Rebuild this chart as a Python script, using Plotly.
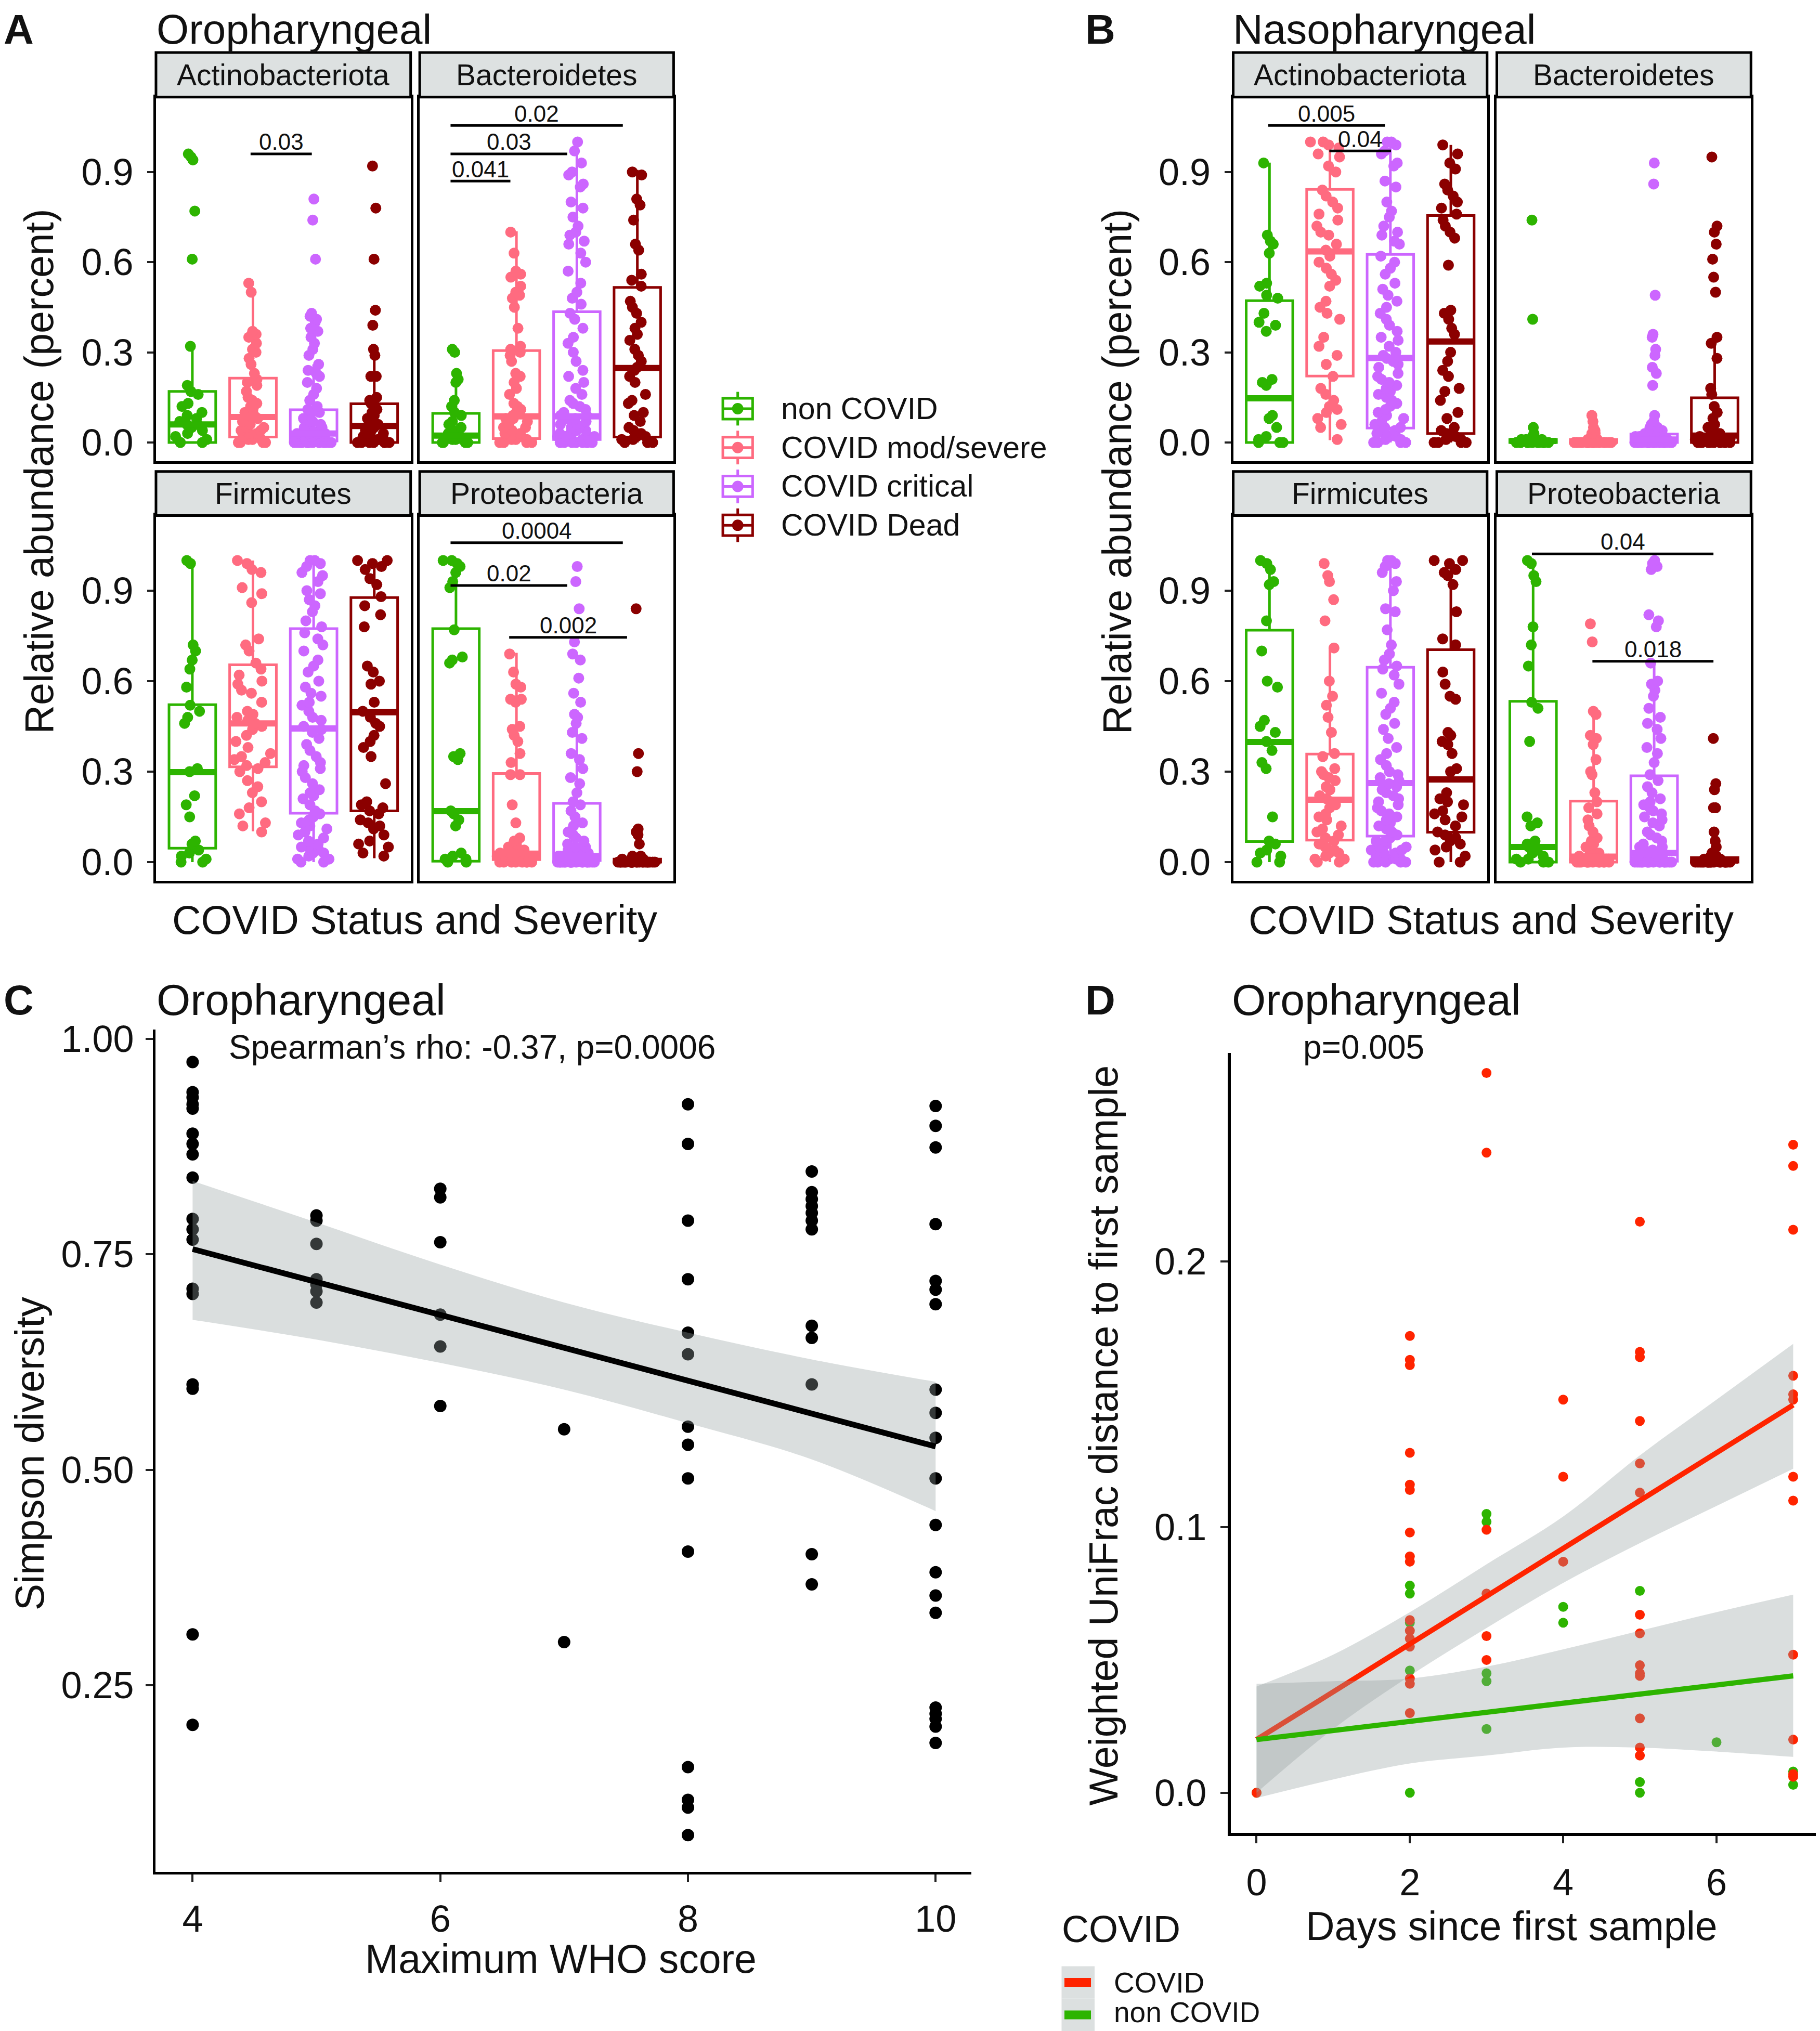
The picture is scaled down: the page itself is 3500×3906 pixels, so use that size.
import plotly.graph_objects as go

group_names = ["non COVID", "COVID mod/severe", "COVID critical", "COVID Dead"]
group_colors = ["#2DB400", "#FF6B80", "#CC66FF", "#8B0000"]

# box stats per group: lower whisker, q1, median, q3, upper whisker
oro_actino_box = [[0, 0, 0.06, 0.17, 0.32], [0, 0.018, 0.085, 0.214, 0.50], [0, 0.005, 0.03, 0.109, 0.26], [0, 0, 0.055, 0.129, 0.31]]
oro_bact_box = [[0, 0, 0.023, 0.097, 0.236], [0, 0.013, 0.087, 0.306, 0.703], [0, 0.01, 0.087, 0.435, 0.996], [0, 0.018, 0.248, 0.516, 0.907]]
oro_firm_box = [[0, 0.046, 0.298, 0.522, 1.0], [0.102, 0.316, 0.46, 0.654, 1.0], [0, 0.162, 0.443, 0.774, 1.0], [0.013, 0.17, 0.497, 0.877, 1.0]]
oro_prot_box = [[0, 0.003, 0.169, 0.774, 1.0], [0, 0.008, 0.028, 0.294, 0.694], [0, 0.005, 0.02, 0.195, 0.48], [0, 0, 0.003, 0.01, 0.02]]
naso_actino_box = [[0, 0, 0.147, 0.472, 0.931], [0.008, 0.221, 0.636, 0.842, 1.0], [0, 0.048, 0.281, 0.626, 1.0], [0, 0.03, 0.336, 0.755, 0.99]]
naso_bact_box = [[0, 0, 0.005, 0.01, 0.02], [0, 0, 0.003, 0.01, 0.02], [0, 0, 0.01, 0.028, 0.07], [0, 0, 0.023, 0.149, 0.346]]
naso_firm_box = [[0, 0.068, 0.398, 0.769, 1.0], [0, 0.073, 0.207, 0.358, 0.714], [0, 0.086, 0.262, 0.646, 1.0], [0, 0.099, 0.274, 0.704, 1.0]]
naso_prot_box = [[0, 0, 0.05, 0.533, 1.0], [0, 0, 0.018, 0.202, 0.497], [0, 0.003, 0.03, 0.286, 0.662], [0, 0, 0.005, 0.015, 0.03]]

# sample values per group (non COVID, mod/severe, critical, dead)
oro_actino_pts = [
    [0.95, 0.96, 0.94, 0.77, 0.61, 0.32, 0.19, 0.17, 0.16, 0.13, 0.12, 0.10, 0.09, 0.08, 0.07, 0.06, 0.06, 0.05, 0.04, 0.03, 0.02, 0.01, 0.0, 0.0],
    [0.53, 0.50, 0.37, 0.36, 0.35, 0.33, 0.31, 0.30, 0.28, 0.26, 0.23, 0.21, 0.20, 0.19, 0.17, 0.15, 0.14, 0.13, 0.12, 0.11, 0.10, 0.09, 0.09, 0.08,
     0.08, 0.07, 0.07, 0.06, 0.05, 0.05, 0.04, 0.04, 0.03, 0.03, 0.02, 0.02, 0.02, 0.01, 0.01, 0.01, 0.0, 0.0, 0.0, 0.0],
    [0.81, 0.74, 0.61, 0.43, 0.42, 0.41, 0.40, 0.38, 0.37, 0.35, 0.33, 0.31, 0.29, 0.26, 0.24, 0.23, 0.22, 0.20, 0.18, 0.16, 0.14, 0.12, 0.11, 0.10,
     0.10, 0.09, 0.08, 0.07, 0.07, 0.06, 0.05, 0.05, 0.04, 0.04, 0.04, 0.03, 0.03, 0.03, 0.03, 0.02, 0.02, 0.02, 0.02, 0.02, 0.02, 0.01, 0.01, 0.01,
     0.01, 0.01, 0.01, 0.01, 0.01, 0.0, 0.0, 0.0, 0.0, 0.0, 0.0, 0.0, 0.0, 0.0, 0.0, 0.0, 0.0, 0.0, 0.0, 0.0, 0.0, 0.0],
    [0.92, 0.78, 0.61, 0.44, 0.39, 0.31, 0.29, 0.22, 0.22, 0.15, 0.14, 0.13, 0.12, 0.11, 0.10, 0.09, 0.08, 0.07, 0.06, 0.06, 0.05, 0.05, 0.04, 0.04,
     0.03, 0.03, 0.02, 0.02, 0.02, 0.01, 0.01, 0.01, 0.01, 0.0, 0.0, 0.0, 0.0, 0.0, 0.0, 0.0],
]
oro_bact_pts = [
    [0.31, 0.30, 0.23, 0.21, 0.20, 0.14, 0.12, 0.10, 0.09, 0.07, 0.06, 0.05, 0.04, 0.03, 0.03, 0.02, 0.02, 0.01, 0.01, 0.01, 0.0, 0.0, 0.0, 0.0],
    [0.70, 0.63, 0.57, 0.56, 0.55, 0.52, 0.50, 0.49, 0.48, 0.45, 0.38, 0.32, 0.31, 0.30, 0.29, 0.27, 0.23, 0.22, 0.20, 0.18, 0.16, 0.13, 0.12, 0.11,
     0.10, 0.09, 0.08, 0.08, 0.07, 0.06, 0.05, 0.05, 0.04, 0.03, 0.03, 0.02, 0.02, 0.01, 0.01, 0.01, 0.0, 0.0, 0.0, 0.0],
    [1.0, 0.97, 0.93, 0.90, 0.89, 0.86, 0.85, 0.80, 0.78, 0.75, 0.72, 0.70, 0.69, 0.67, 0.66, 0.63, 0.60, 0.57, 0.53, 0.50, 0.48, 0.46, 0.43, 0.41,
     0.38, 0.35, 0.33, 0.30, 0.27, 0.24, 0.22, 0.20, 0.18, 0.16, 0.14, 0.13, 0.12, 0.11, 0.10, 0.09, 0.09, 0.08, 0.08, 0.07, 0.07, 0.06, 0.06, 0.05,
     0.05, 0.04, 0.04, 0.03, 0.03, 0.03, 0.02, 0.02, 0.02, 0.01, 0.01, 0.01, 0.01, 0.01, 0.0, 0.0, 0.0, 0.0, 0.0, 0.0, 0.0, 0.0],
    [0.90, 0.89, 0.81, 0.79, 0.74, 0.66, 0.64, 0.56, 0.54, 0.52, 0.47, 0.45, 0.43, 0.40, 0.38, 0.36, 0.34, 0.31, 0.29, 0.27, 0.25, 0.24, 0.22, 0.20,
     0.16, 0.14, 0.13, 0.10, 0.09, 0.07, 0.05, 0.04, 0.03, 0.02, 0.02, 0.01, 0.01, 0.0, 0.0, 0.0],
]
oro_firm_pts = [
    [1.0, 0.99, 0.72, 0.70, 0.67, 0.64, 0.58, 0.52, 0.50, 0.48, 0.46, 0.31, 0.30, 0.22, 0.19, 0.15, 0.07, 0.06, 0.04, 0.03, 0.02, 0.01, 0.0, 0.0],
    [1.0, 0.99, 0.97, 0.96, 0.91, 0.89, 0.86, 0.74, 0.72, 0.70, 0.66, 0.64, 0.62, 0.60, 0.59, 0.57, 0.56, 0.53, 0.50, 0.49, 0.48, 0.47, 0.46, 0.45,
     0.44, 0.42, 0.40, 0.38, 0.36, 0.35, 0.34, 0.33, 0.32, 0.31, 0.30, 0.27, 0.25, 0.23, 0.20, 0.18, 0.16, 0.13, 0.12, 0.10],
    [1.0, 1.0, 0.99, 0.98, 0.96, 0.95, 0.93, 0.90, 0.89, 0.87, 0.85, 0.83, 0.80, 0.78, 0.76, 0.74, 0.72, 0.70, 0.67, 0.65, 0.63, 0.60, 0.58, 0.56,
     0.55, 0.53, 0.52, 0.50, 0.48, 0.47, 0.45, 0.44, 0.43, 0.41, 0.39, 0.37, 0.35, 0.33, 0.32, 0.31, 0.30, 0.28, 0.26, 0.24, 0.23, 0.22, 0.21, 0.19,
     0.17, 0.16, 0.15, 0.14, 0.13, 0.12, 0.11, 0.10, 0.09, 0.08, 0.07, 0.06, 0.05, 0.05, 0.04, 0.03, 0.03, 0.02, 0.01, 0.01, 0.0, 0.0],
    [1.0, 1.0, 0.99, 0.98, 0.97, 0.94, 0.92, 0.88, 0.85, 0.82, 0.78, 0.65, 0.63, 0.60, 0.59, 0.53, 0.50, 0.48, 0.46, 0.45, 0.42, 0.40, 0.38, 0.35,
     0.26, 0.20, 0.19, 0.18, 0.17, 0.16, 0.14, 0.13, 0.12, 0.11, 0.09, 0.07, 0.06, 0.05, 0.03, 0.02],
]
oro_prot_pts = [
    [1.0, 1.0, 0.99, 0.98, 0.96, 0.93, 0.91, 0.77, 0.68, 0.67, 0.66, 0.36, 0.35, 0.34, 0.17, 0.16, 0.14, 0.12, 0.03, 0.02, 0.01, 0.01, 0.0, 0.0],
    [0.69, 0.63, 0.59, 0.58, 0.54, 0.54, 0.53, 0.45, 0.44, 0.42, 0.40, 0.36, 0.33, 0.29, 0.29, 0.19, 0.13, 0.08, 0.07, 0.06, 0.05, 0.05, 0.04, 0.04,
     0.03, 0.03, 0.03, 0.02, 0.02, 0.02, 0.02, 0.01, 0.01, 0.01, 0.01, 0.01, 0.0, 0.0, 0.0, 0.0, 0.0, 0.0, 0.0, 0.0],
    [0.98, 0.93, 0.84, 0.73, 0.69, 0.67, 0.61, 0.56, 0.53, 0.49, 0.48, 0.46, 0.43, 0.41, 0.36, 0.34, 0.31, 0.28, 0.26, 0.23, 0.20, 0.19, 0.17, 0.15,
     0.13, 0.12, 0.10, 0.09, 0.08, 0.07, 0.06, 0.05, 0.05, 0.04, 0.04, 0.03, 0.03, 0.03, 0.02, 0.02, 0.02, 0.02, 0.02, 0.01, 0.01, 0.01, 0.01, 0.01,
     0.01, 0.01, 0.01, 0.0, 0.0, 0.0, 0.0, 0.0, 0.0, 0.0, 0.0, 0.0, 0.0, 0.0, 0.0, 0.0, 0.0, 0.0, 0.0, 0.0, 0.0, 0.0],
    [0.84, 0.36, 0.30, 0.11, 0.10, 0.10, 0.09, 0.06, 0.02, 0.02, 0.01, 0.01, 0.01, 0.01, 0.01, 0.01, 0.01, 0.0, 0.0, 0.0, 0.0, 0.0, 0.0, 0.0,
     0.0, 0.0, 0.0, 0.0, 0.0, 0.0, 0.0, 0.0, 0.0, 0.0, 0.0, 0.0, 0.0, 0.0, 0.0, 0.0],
]
naso_actino_pts = [
    [0.93, 0.69, 0.67, 0.66, 0.63, 0.53, 0.52, 0.49, 0.48, 0.43, 0.40, 0.39, 0.37, 0.21, 0.20, 0.19, 0.09, 0.08, 0.05, 0.02, 0.01, 0.0, 0.0, 0.0],
    [1.0, 1.0, 0.99, 0.98, 0.96, 0.95, 0.92, 0.90, 0.84, 0.82, 0.80, 0.78, 0.76, 0.74, 0.72, 0.70, 0.69, 0.66, 0.64, 0.62, 0.60, 0.58, 0.56, 0.54,
     0.52, 0.47, 0.45, 0.43, 0.41, 0.35, 0.32, 0.29, 0.26, 0.22, 0.18, 0.16, 0.14, 0.12, 0.11, 0.10, 0.08, 0.06, 0.05, 0.01],
    [1.0, 1.0, 0.99, 0.97, 0.96, 0.93, 0.92, 0.87, 0.85, 0.80, 0.77, 0.75, 0.72, 0.70, 0.69, 0.67, 0.66, 0.62, 0.60, 0.58, 0.56, 0.53, 0.51, 0.49,
     0.47, 0.45, 0.43, 0.41, 0.39, 0.37, 0.35, 0.34, 0.32, 0.30, 0.29, 0.28, 0.27, 0.26, 0.25, 0.23, 0.22, 0.21, 0.20, 0.19, 0.18, 0.17, 0.16, 0.15,
     0.14, 0.13, 0.12, 0.11, 0.10, 0.09, 0.08, 0.07, 0.06, 0.05, 0.05, 0.04, 0.03, 0.03, 0.02, 0.02, 0.01, 0.01, 0.0, 0.0, 0.0, 0.0],
    [0.99, 0.96, 0.93, 0.91, 0.86, 0.84, 0.82, 0.80, 0.78, 0.76, 0.74, 0.72, 0.70, 0.68, 0.59, 0.44, 0.43, 0.41, 0.38, 0.36, 0.30, 0.27, 0.24, 0.22,
     0.18, 0.17, 0.14, 0.10, 0.08, 0.05, 0.04, 0.03, 0.02, 0.02, 0.01, 0.01, 0.0, 0.0, 0.0, 0.0],
]
naso_bact_pts = [
    [0.74, 0.41, 0.05, 0.03, 0.02, 0.02, 0.01, 0.01, 0.01, 0.01, 0.01, 0.0, 0.0, 0.0, 0.0, 0.0, 0.0, 0.0, 0.0, 0.0, 0.0, 0.0, 0.0, 0.0],
    [0.09, 0.07, 0.05, 0.04, 0.03, 0.03, 0.02, 0.02, 0.02, 0.01, 0.01, 0.01, 0.01, 0.01, 0.01, 0.01, 0.01, 0.01, 0.01, 0.0, 0.0, 0.0, 0.0, 0.0,
     0.0, 0.0, 0.0, 0.0, 0.0, 0.0, 0.0, 0.0, 0.0, 0.0, 0.0, 0.0, 0.0, 0.0, 0.0, 0.0, 0.0, 0.0, 0.0, 0.0],
    [0.93, 0.86, 0.49, 0.36, 0.35, 0.31, 0.29, 0.25, 0.23, 0.19, 0.09, 0.07, 0.06, 0.05, 0.05, 0.04, 0.04, 0.03, 0.03, 0.03, 0.02, 0.02, 0.02, 0.02,
     0.02, 0.02, 0.02, 0.02, 0.01, 0.01, 0.01, 0.01, 0.01, 0.01, 0.01, 0.01, 0.01, 0.01, 0.01, 0.01, 0.01, 0.01, 0.0, 0.0, 0.0, 0.0, 0.0, 0.0,
     0.0, 0.0, 0.0, 0.0, 0.0, 0.0, 0.0, 0.0, 0.0, 0.0, 0.0, 0.0, 0.0, 0.0, 0.0, 0.0, 0.0, 0.0, 0.0, 0.0, 0.0, 0.0],
    [0.95, 0.72, 0.70, 0.66, 0.61, 0.55, 0.50, 0.35, 0.33, 0.28, 0.18, 0.16, 0.12, 0.10, 0.08, 0.06, 0.05, 0.04, 0.03, 0.03, 0.02, 0.02, 0.02, 0.01,
     0.01, 0.01, 0.01, 0.01, 0.01, 0.0, 0.0, 0.0, 0.0, 0.0, 0.0, 0.0, 0.0, 0.0, 0.0, 0.0],
]
naso_firm_pts = [
    [1.0, 0.99, 0.97, 0.93, 0.92, 0.80, 0.70, 0.60, 0.58, 0.47, 0.45, 0.43, 0.40, 0.37, 0.33, 0.31, 0.15, 0.07, 0.06, 0.04, 0.03, 0.02, 0.0, 0.0],
    [0.99, 0.95, 0.93, 0.87, 0.80, 0.71, 0.60, 0.55, 0.52, 0.48, 0.43, 0.36, 0.35, 0.31, 0.30, 0.29, 0.28, 0.27, 0.25, 0.24, 0.22, 0.21, 0.20, 0.19,
     0.18, 0.16, 0.15, 0.14, 0.12, 0.11, 0.10, 0.09, 0.08, 0.07, 0.06, 0.05, 0.04, 0.03, 0.03, 0.02, 0.01, 0.01, 0.0, 0.0],
    [1.0, 1.0, 0.99, 0.98, 0.96, 0.93, 0.90, 0.84, 0.83, 0.77, 0.72, 0.69, 0.67, 0.65, 0.64, 0.62, 0.59, 0.56, 0.53, 0.51, 0.49, 0.46, 0.44, 0.41,
     0.38, 0.36, 0.34, 0.32, 0.30, 0.29, 0.28, 0.27, 0.26, 0.25, 0.24, 0.23, 0.22, 0.21, 0.20, 0.19, 0.18, 0.17, 0.16, 0.15, 0.14, 0.13, 0.12, 0.11,
     0.10, 0.09, 0.08, 0.07, 0.07, 0.06, 0.05, 0.05, 0.04, 0.04, 0.03, 0.03, 0.02, 0.02, 0.01, 0.01, 0.01, 0.0, 0.0, 0.0, 0.0, 0.0],
    [1.0, 1.0, 0.99, 0.97, 0.96, 0.95, 0.92, 0.83, 0.74, 0.72, 0.63, 0.59, 0.55, 0.54, 0.43, 0.42, 0.40, 0.39, 0.36, 0.31, 0.30, 0.23, 0.21, 0.20,
     0.19, 0.17, 0.16, 0.15, 0.14, 0.12, 0.10, 0.09, 0.08, 0.07, 0.06, 0.05, 0.04, 0.02, 0.0, 0.0],
]
naso_prot_pts = [
    [1.0, 0.99, 0.95, 0.93, 0.78, 0.72, 0.65, 0.53, 0.51, 0.40, 0.15, 0.13, 0.12, 0.07, 0.06, 0.05, 0.04, 0.03, 0.02, 0.01, 0.01, 0.0, 0.0, 0.0],
    [0.79, 0.73, 0.50, 0.49, 0.42, 0.41, 0.39, 0.34, 0.30, 0.29, 0.23, 0.20, 0.18, 0.16, 0.14, 0.12, 0.10, 0.08, 0.07, 0.06, 0.05, 0.04, 0.03, 0.03,
     0.02, 0.02, 0.02, 0.01, 0.01, 0.01, 0.01, 0.01, 0.0, 0.0, 0.0, 0.0, 0.0, 0.0, 0.0, 0.0, 0.0, 0.0, 0.0, 0.0],
    [1.0, 0.99, 0.98, 0.97, 0.82, 0.80, 0.78, 0.66, 0.60, 0.59, 0.57, 0.55, 0.51, 0.48, 0.46, 0.44, 0.41, 0.38, 0.36, 0.33, 0.29, 0.27, 0.25, 0.23,
     0.21, 0.20, 0.19, 0.18, 0.17, 0.16, 0.15, 0.14, 0.13, 0.12, 0.10, 0.09, 0.08, 0.07, 0.06, 0.05, 0.05, 0.04, 0.04, 0.03, 0.03, 0.03, 0.02, 0.02,
     0.02, 0.01, 0.01, 0.01, 0.01, 0.01, 0.0, 0.0, 0.0, 0.0, 0.0, 0.0, 0.0, 0.0, 0.0, 0.0, 0.0, 0.0, 0.0, 0.0, 0.0, 0.0],
    [0.41, 0.26, 0.24, 0.18, 0.18, 0.10, 0.07, 0.05, 0.03, 0.02, 0.02, 0.01, 0.01, 0.01, 0.01, 0.01, 0.01, 0.01, 0.01, 0.01, 0.01, 0.0, 0.0, 0.0,
     0.0, 0.0, 0.0, 0.0, 0.0, 0.0, 0.0, 0.0, 0.0, 0.0, 0.0, 0.0, 0.0, 0.0, 0.0, 0.0],
]

# significance brackets: from group, to group, height, p value
oro_actino_sig = [(1.96, 2.97, 0.96, "0.03")]
oro_bact_sig = [(0.91, 3.76, 1.055, "0.02"), (0.91, 2.84, 0.96, "0.03"), (0.91, 1.90, 0.87, "0.041")]
oro_firm_sig = []
oro_prot_sig = [(0.91, 3.76, 1.059, "0.0004"), (0.91, 2.84, 0.917, "0.02"), (1.88, 3.83, 0.745, "0.002")]
naso_actino_sig = [(0.98, 2.91, 1.055, "0.005"), (1.99, 3.01, 0.97, "0.04")]
naso_bact_sig = []
naso_firm_sig = []
naso_prot_sig = [(0.98, 3.98, 1.022, "0.04"), (1.98, 3.98, 0.666, "0.018")]

# ---- panel C: Simpson diversity vs max WHO score ----
who_scores = [4, 5, 6, 7, 8, 9, 10]
simpson = [
    [0.973, 0.938, 0.932, 0.924, 0.919, 0.890, 0.878, 0.866, 0.839, 0.791, 0.779, 0.767, 0.710, 0.704, 0.599, 0.594, 0.309, 0.204],
    [0.795, 0.789, 0.762, 0.721, 0.715, 0.707, 0.694],
    [0.826, 0.816, 0.764, 0.680, 0.643, 0.574],
    [0.547, 0.300],
    [0.924, 0.878, 0.789, 0.721, 0.659, 0.634, 0.550, 0.529, 0.490, 0.405, 0.155, 0.117, 0.108, 0.076],
    [0.846, 0.822, 0.814, 0.806, 0.798, 0.789, 0.779, 0.667, 0.653, 0.599, 0.402, 0.367],
    [0.922, 0.899, 0.874, 0.785, 0.719, 0.709, 0.692, 0.593, 0.566, 0.537, 0.490, 0.436, 0.381, 0.354, 0.334, 0.224, 0.217, 0.211, 0.202, 0.183],
]
simpson_fit_x = [4, 10]
simpson_fit = [0.756, 0.527]
simpson_ci_hi = [0.835, 0.787, 0.738, 0.694, 0.659, 0.628, 0.602]
simpson_ci_lo = [0.674, 0.651, 0.624, 0.593, 0.554, 0.512, 0.452]

# ---- panel D: weighted UniFrac distance vs days ----
days = [0, 2, 3, 4, 5, 6, 7]
unifrac_covid = [
    [0.0],
    [0.172, 0.163, 0.161, 0.128, 0.116, 0.114, 0.098, 0.089, 0.087, 0.065, 0.061, 0.058, 0.055, 0.043, 0.041, 0.030],
    [0.271, 0.241, 0.099, 0.075, 0.059, 0.050],
    [0.148, 0.119, 0.087],
    [0.215, 0.166, 0.164, 0.140, 0.124, 0.113, 0.067, 0.060, 0.048, 0.045, 0.044, 0.028, 0.017, 0.014],
    [],
    [0.244, 0.236, 0.212, 0.157, 0.150, 0.148, 0.119, 0.110, 0.052, 0.020, 0.007, 0.006],
]
unifrac_noncovid = [
    [0.0],
    [0.078, 0.075, 0.064, 0.046, 0.0],
    [0.105, 0.102, 0.045, 0.042, 0.024],
    [0.070, 0.064],
    [0.076, 0.004, 0.0],
    [0.019],
    [0.008, 0.003],
]
fit_days = [0, 1, 2, 3, 4, 5, 6, 7]
covid_fit = [0.020, 0.146]
covid_ci_hi = [0.040, 0.052, 0.068, 0.086, 0.104, 0.127, 0.148, 0.169]
covid_ci_lo = [0.000, 0.024, 0.044, 0.062, 0.079, 0.094, 0.108, 0.122]
noncovid_fit = [0.020, 0.044]
noncovid_ci_hi = [0.041, 0.042, 0.043, 0.0475, 0.054, 0.061, 0.068, 0.0746]
noncovid_ci_lo = [-0.002, 0.005, 0.011, 0.014, 0.017, 0.017, 0.0155, 0.0135]
covid_red = "#FF2400"

FONT = "Liberation Sans, Arial, sans-serif"
TXT = "#111111"
BAND = "rgba(150,160,160,0.35)"
STRIP = "#DDE1E1"

# layout was measured on a 1405 x 1568 copy; the page adds a small offset
OFF = 3.2


def fx(x):
    return (x - OFF) / 1405


def fy(y):
    return 1 - (y - OFF) / 1568


fig = go.Figure()
layout = {}
shapes = []
annotations = []


def text(s, x, y, size, xanchor="left", bold=False, angle=0, color=TXT):
    annotations.append(dict(
        text="<b>%s</b>" % s if bold else s, x=fx(x), y=fy(y), xref="paper", yref="paper",
        xanchor=xanchor, yanchor="middle", showarrow=False, textangle=angle,
        font=dict(family=FONT, size=size, color=color)))


def band(xs, hi, lo, xa, ya):
    # lower edge first, then fill up to the upper edge
    fig.add_trace(go.Scatter(x=xs, y=lo, mode="lines", line=dict(width=0, shape="spline"),
                             showlegend=False, hoverinfo="skip", xaxis=xa, yaxis=ya))
    fig.add_trace(go.Scatter(x=xs, y=hi, mode="lines", line=dict(width=0, shape="spline"),
                             fill="tonexty", fillcolor=BAND, showlegend=False, hoverinfo="skip",
                             xaxis=xa, yaxis=ya))


# facets: strip, box stats, points, brackets, left px, right px, row, show y labels
facets = [
    ("Actinobacteriota", oro_actino_box, oro_actino_pts, oro_actino_sig, 120.4, 317, 0, True),
    ("Bacteroidetes", oro_bact_box, oro_bact_pts, oro_bact_sig, 324, 520, 0, False),
    ("Firmicutes", oro_firm_box, oro_firm_pts, oro_firm_sig, 120.4, 317, 1, True),
    ("Proteobacteria", oro_prot_box, oro_prot_pts, oro_prot_sig, 324, 520, 1, False),
    ("Actinobacteriota", naso_actino_box, naso_actino_pts, naso_actino_sig, 952, 1148, 0, True),
    ("Bacteroidetes", naso_bact_box, naso_bact_pts, naso_bact_sig, 1155.5, 1351.7, 0, False),
    ("Firmicutes", naso_firm_box, naso_firm_pts, naso_firm_sig, 952, 1148, 1, True),
    ("Proteobacteria", naso_prot_box, naso_prot_pts, naso_prot_sig, 1155.5, 1351.7, 1, False),
]
rows = [(40.5, 75, 356), (364, 398, 680)]
BOXW = 0.77

for i, (strip, box, pts, sig, x0, x1, row, left) in enumerate(facets, start=1):
    sfx = "" if i == 1 else str(i)
    xa, ya = "x" + sfx, "y" + sfx
    s_top, top, bot = rows[row]
    layout["xaxis" + sfx] = dict(
        domain=[fx(x0), fx(x1)], anchor=ya, range=[0.4, 4.6], showticklabels=False, ticks="",
        showgrid=False, zeroline=False, showline=True, mirror=True, linecolor="black", linewidth=5)
    layout["yaxis" + sfx] = dict(
        domain=[fy(bot), fy(top)], anchor=xa, range=[-0.062, 1.149],
        tickvals=[0, 0.3, 0.6, 0.9], ticktext=["0.0", "0.3", "0.6", "0.9"],
        showticklabels=left, ticks="outside" if left else "", ticklen=12, tickwidth=4, tickcolor="#222",
        ticklabelstandoff=12, tickfont=dict(family=FONT, size=72, color=TXT),
        showgrid=False, zeroline=False, showline=True, mirror=True, linecolor="black", linewidth=5)

    for k in range(4):
        lo, q1, med, q3, hi = box[k]
        c = group_colors[k]
        fig.add_trace(go.Box(
            x=[k + 1], lowerfence=[lo], q1=[q1], median=[med], q3=[q3], upperfence=[hi],
            width=BOXW, whiskerwidth=0, fillcolor="white", line=dict(color=c, width=5),
            boxpoints=False, showlegend=False, hoverinfo="skip", xaxis=xa, yaxis=ya))
    for k in range(4):
        med = box[k][2]
        fig.add_trace(go.Scatter(
            x=[k + 1 - BOXW / 2, k + 1 + BOXW / 2], y=[med, med], mode="lines",
            line=dict(color=group_colors[k], width=12), showlegend=False, hoverinfo="skip",
            xaxis=xa, yaxis=ya))
    for k in range(4):
        vals = pts[k]
        fig.add_trace(go.Box(
            x=[k + 1] * len(vals), y=vals, boxpoints="all", jitter=0.85, pointpos=0, width=BOXW,
            whiskerwidth=0, fillcolor="rgba(0,0,0,0)", line=dict(width=0, color="rgba(0,0,0,0)"),
            marker=dict(color=group_colors[k], size=21), showlegend=False, hoverinfo="skip",
            xaxis=xa, yaxis=ya))
    for a, b, lvl, lab in sig:
        fig.add_trace(go.Scatter(
            x=[a, b], y=[lvl, lvl], mode="lines", line=dict(color="black", width=5),
            showlegend=False, hoverinfo="skip", xaxis=xa, yaxis=ya))
        annotations.append(dict(
            text=lab, x=(a + b) / 2, y=lvl + 0.04, xref=xa, yref=ya, showarrow=False,
            xanchor="center", yanchor="middle", font=dict(family=FONT, size=44, color=TXT)))

    shapes.append(dict(type="rect", xref="paper", yref="paper", x0=fx(x0), x1=fx(x1),
                       y0=fy(top), y1=fy(s_top), fillcolor=STRIP, line=dict(color="black", width=5)))
    text(strip, (x0 + x1) / 2, (s_top + top) / 2, 57, xanchor="center")

# panel titles and axis titles for A and B
text("A", 2, 22.5, 80, bold=True)
text("Oropharyngeal", 120, 22.5, 80)
text("B", 837, 22.5, 80, bold=True)
text("Nasopharyngeal", 951, 22.5, 80)
text("Relative abundance (percent)", 30, 364, 77, xanchor="center", angle=-90)
text("Relative abundance (percent)", 862, 364, 77, xanchor="center", angle=-90)
text("COVID Status and Severity", 320, 710, 77, xanchor="center")
text("COVID Status and Severity", 1151, 710, 77, xanchor="center")

# boxplot legend
for k, name in enumerate(group_names):
    yc = 315.5 + 30 * k
    c = group_colors[k]
    xc = 569.5
    shapes.append(dict(type="line", xref="paper", yref="paper", x0=fx(xc), x1=fx(xc),
                       y0=fy(yc - 13), y1=fy(yc + 13), line=dict(color=c, width=5)))
    shapes.append(dict(type="rect", xref="paper", yref="paper", x0=fx(558), x1=fx(581),
                       y0=fy(yc + 8), y1=fy(yc - 8), fillcolor="white", line=dict(color=c, width=5)))
    shapes.append(dict(type="line", xref="paper", yref="paper", x0=fx(558), x1=fx(581),
                       y0=fy(yc), y1=fy(yc), line=dict(color=c, width=5)))
    shapes.append(dict(type="circle", xref="paper", yref="paper", x0=fx(xc - 4.4), x1=fx(xc + 4.4),
                       y0=fy(yc + 4.4), y1=fy(yc - 4.4), fillcolor=c, line=dict(width=0)))
    text(name, 602, yc, 59)

# ---- panel C ----
layout["xaxis9"] = dict(
    domain=[fx(120), fx(750)], anchor="y9", range=[3.70, 10.29], tickvals=[4, 6, 8, 10],
    ticks="outside", ticklen=14, tickwidth=4, tickcolor="#222", ticklabelstandoff=10,
    tickfont=dict(family=FONT, size=72, color=TXT), showgrid=False, zeroline=False,
    showline=True, linecolor="black", linewidth=5)
layout["yaxis9"] = dict(
    domain=[fy(1445), fy(795)], anchor="x9", range=[0.0336, 1.0105],
    tickvals=[0.25, 0.5, 0.75, 1.0], ticktext=["0.25", "0.50", "0.75", "1.00"],
    ticks="outside", ticklen=14, tickwidth=4, tickcolor="#222", ticklabelstandoff=8,
    tickfont=dict(family=FONT, size=72, color=TXT), showgrid=False, zeroline=False,
    showline=True, linecolor="black", linewidth=5)
for score, vals in zip(who_scores, simpson):
    fig.add_trace(go.Scatter(
        x=[score] * len(vals), y=vals, mode="markers", marker=dict(color="black", size=24),
        showlegend=False, hoverinfo="skip", xaxis="x9", yaxis="y9"))
band(who_scores, simpson_ci_hi, simpson_ci_lo, "x9", "y9")
fig.add_trace(go.Scatter(
    x=simpson_fit_x, y=simpson_fit, mode="lines", line=dict(color="black", width=11),
    showlegend=False, hoverinfo="skip", xaxis="x9", yaxis="y9"))

text("C", 2, 772, 80, bold=True)
text("Oropharyngeal", 120, 772, 84)
text("Spearman\u2019s rho: -0.37, p=0.0006", 176, 808.5, 64)
text("Simpson diversity", 23, 1122, 77, xanchor="center", angle=-90)
text("Maximum WHO score", 433, 1512, 77, xanchor="center")

# ---- panel D ----
layout["xaxis10"] = dict(
    domain=[fx(950), fx(1405)], anchor="y10", range=[-0.338, 7.35], tickvals=[0, 2, 4, 6],
    ticks="outside", ticklen=14, tickwidth=4, tickcolor="#222", ticklabelstandoff=14,
    tickfont=dict(family=FONT, size=72, color=TXT), showgrid=False, zeroline=False,
    showline=True, linecolor="black", linewidth=6)
layout["yaxis10"] = dict(
    domain=[fy(1415), fy(813)], anchor="x10", range=[-0.0151, 0.2785],
    tickvals=[0, 0.1, 0.2], ticktext=["0.0", "0.1", "0.2"],
    ticks="outside", ticklen=14, tickwidth=4, tickcolor="#222", ticklabelstandoff=12,
    tickfont=dict(family=FONT, size=72, color=TXT), showgrid=False, zeroline=False,
    showline=True, linecolor="black", linewidth=6)
for d, vals in zip(days, unifrac_noncovid):
    fig.add_trace(go.Scatter(
        x=[d] * len(vals), y=vals, mode="markers", marker=dict(color=group_colors[0], size=19),
        showlegend=False, hoverinfo="skip", xaxis="x10", yaxis="y10"))
for d, vals in zip(days, unifrac_covid):
    fig.add_trace(go.Scatter(
        x=[d] * len(vals), y=vals, mode="markers", marker=dict(color=covid_red, size=19),
        showlegend=False, hoverinfo="skip", xaxis="x10", yaxis="y10"))
for hi, lo, fit, c in [(covid_ci_hi, covid_ci_lo, covid_fit, covid_red),
                       (noncovid_ci_hi, noncovid_ci_lo, noncovid_fit, group_colors[0])]:
    band(fit_days, hi, lo, "x10", "y10")
    fig.add_trace(go.Scatter(
        x=[fit_days[0], fit_days[-1]], y=fit, mode="lines", line=dict(color=c, width=10),
        showlegend=False, hoverinfo="skip", xaxis="x10", yaxis="y10"))

text("D", 837, 772, 80, bold=True)
text("Oropharyngeal", 950, 772, 84)
text("p=0.005", 1005, 808.5, 64)
text("Weighted UniFrac distance to first sample", 852, 1108, 77, xanchor="center", angle=-90)
text("Days since first sample", 1167, 1487, 77, xanchor="center")

# colour legend for panel D
text("COVID", 819, 1489.5, 72)
for k, (name, c) in enumerate([("COVID", covid_red), ("non COVID", group_colors[0])]):
    yc = 1530.5 + 25 * k
    shapes.append(dict(type="rect", xref="paper", yref="paper", x0=fx(819.5), x1=fx(845),
                       y0=fy(yc + 12.5), y1=fy(yc - 12.5), fillcolor="#DCE0E0", line=dict(width=0)))
    shapes.append(dict(type="line", xref="paper", yref="paper", x0=fx(821.7), x1=fx(842.2),
                       y0=fy(yc), y1=fy(yc), line=dict(color=c, width=17)))
for name, yc in [("COVID", 1530.5), ("non COVID", 1553.5)]:
    text(name, 859, yc, 55)

fig.update_layout(
    width=3500, height=3906, margin=dict(l=0, r=0, t=0, b=0, autoexpand=False),
    paper_bgcolor="white", plot_bgcolor="white", boxmode="overlay", showlegend=False,
    font=dict(family=FONT, color=TXT), shapes=shapes, annotations=annotations, **layout)

fig.write_html("out.html")
